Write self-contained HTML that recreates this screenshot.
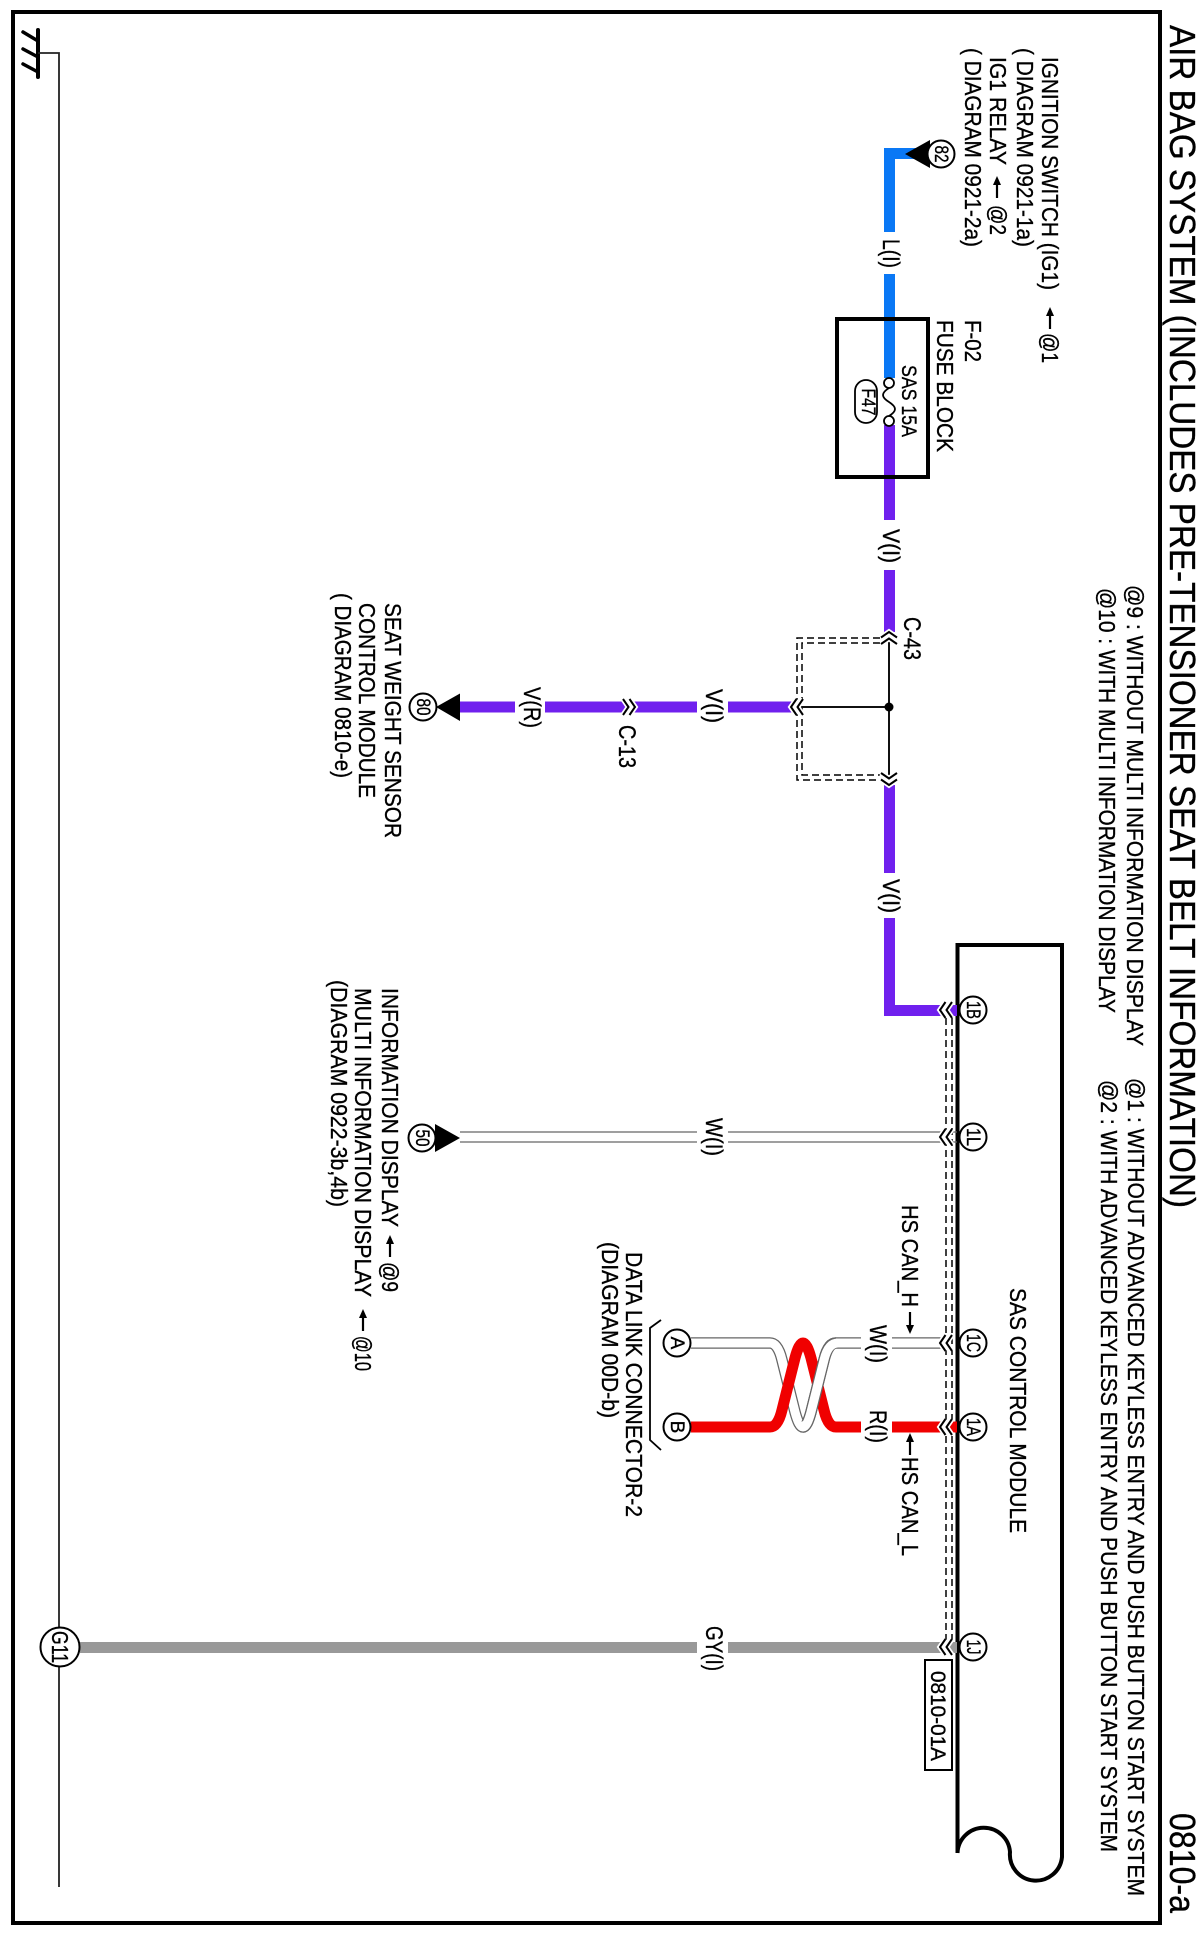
<!DOCTYPE html>
<html><head><meta charset="utf-8"><style>
html,body{margin:0;padding:0;background:#fff;width:1202px;height:1935px;overflow:hidden}
svg{display:block}
text{font-family:"Liberation Sans",sans-serif;fill:#000;font-size:23px;stroke:#000;stroke-width:.35px}
.s{font-size:19px;text-anchor:middle}
.w{font-size:24px}
</style></head><body>
<svg width="1202" height="1935" viewBox="0 0 1202 1935" xmlns="http://www.w3.org/2000/svg">
<defs>
<g id="c"><path d="M5.5 -8L0 0L5.5 8M12 -8L6.5 0L12 8" fill="none" stroke="#fff" stroke-width="5.5"/><path d="M5.5 -8L0 0L5.5 8M12 -8L6.5 0L12 8" fill="none" stroke="#000" stroke-width="2"/></g>
<g id="a"><path d="M0 0L-4 9H4Z" fill="#000"/><path d="M0 6V22" stroke="#000" stroke-width="2.200"/></g>
</defs>
<rect width="1202" height="1935" fill="#fff"/>
<rect x="13" y="12" width="1147" height="1911" fill="none" stroke="#000" stroke-width="4"/>

<!-- ground -->
<path d="M38 30V77" stroke="#000" stroke-width="4" stroke-linecap="round"/>
<path d="M23 32L38 41M23 49L38 57M23 64L38 72" stroke="#000" stroke-width="3.5" stroke-linecap="round"/>
<path d="M38 53H59V1887" fill="none" stroke="#222" stroke-width="1.8"/>

<!-- module -->
<path d="M957.500 1853V945H1062V1857A26 26 0 0 1 1010 1852A26.300 26.300 0 0 0 957.500 1853" fill="none" stroke="#000" stroke-width="4"/>

<!-- wires -->
<path d="M920 153.500H889.500V232M889.500 274V378" fill="none" stroke="#0a78f5" stroke-width="11"/>
<path d="M889.500 425V520M889.500 570V632M889.500 785V873M889.500 918V1010.500H957" fill="none" stroke="#7020ee" stroke-width="11"/>
<path d="M460 707H515M545 707H697M728 707H795" fill="none" stroke="#7020ee" stroke-width="11"/>
<path d="M80 1647.500H697M728 1647.500H957" fill="none" stroke="#999" stroke-width="11"/>
<path d="M889 632V785M889 707H797" fill="none" stroke="#111" stroke-width="2"/>
<circle cx="889" cy="707" r="4.500" fill="#000"/>
<path d="M460 1132H697M728 1132H957M460 1142H697M728 1142H957" stroke="#666" stroke-width="1.300" fill="none"/>

<!-- dashed shield -->
<g fill="none" stroke="#000" stroke-width="1.500" stroke-dasharray="7 4">
<path d="M880 638H797V780H880"/>
<path d="M880 643H802V775H880"/>
<path d="M946 1018V1640"/>
<path d="M952 1018V1640"/>
</g>

<!-- twisted pair -->
<path d="M691 1343H770Q778 1343 782 1360L795 1412Q799 1427 803 1427Q807 1427 811 1412L824 1360Q828 1343 836 1343H861M892 1343H950" fill="none" stroke="#666" stroke-width="11.500"/>
<path d="M691 1343H770Q778 1343 782 1360L795 1412Q799 1427 803 1427Q807 1427 811 1412L824 1360Q828 1343 836 1343H861M892 1343H950" fill="none" stroke="#fff" stroke-width="9"/>
<path d="M691 1427H770Q778 1427 782 1410L795 1358Q799 1343 803 1343Q807 1343 811 1358L824 1410Q828 1427 836 1427H861M892 1427H957" fill="none" stroke="#f00000" stroke-width="11"/>
<path d="M803 1427Q807 1427 811 1412L824 1360Q828 1343 836 1343" fill="none" stroke="#666" stroke-width="11.500"/>
<path d="M803 1427Q807 1427 811 1412L824 1360Q828 1343 838 1343" fill="none" stroke="#fff" stroke-width="9"/>
<path d="M661 1320L650 1328V1440L661 1450" fill="none" stroke="#000" stroke-width="1.800"/>

<!-- chevrons -->
<use href="#c" transform="translate(889,632) rotate(90)"/>
<use href="#c" transform="translate(889,785) rotate(-90)"/>
<use href="#c" transform="translate(791,707)"/>
<use href="#c" transform="translate(635,707) rotate(180)"/>
<use href="#c" transform="translate(940,1010)"/>
<use href="#c" transform="translate(940,1137)"/>
<use href="#c" transform="translate(940,1343)"/>
<use href="#c" transform="translate(940,1427)"/>
<use href="#c" transform="translate(940,1647)"/>

<!-- triangles -->
<path d="M905 154L930 140V168Z" fill="#000"/>
<path d="M436 707L460 693.500V721Z" fill="#000"/>
<path d="M460 1138L435 1124V1152Z" fill="#000"/>

<!-- label arrows -->
<use href="#a" transform="translate(1050,307)"/>
<use href="#a" transform="translate(997,176)"/>
<use href="#a" transform="translate(390,1235)"/>
<use href="#a" transform="translate(363,1309)"/>
<use href="#a" transform="translate(910,1433)"/>
<use href="#a" transform="translate(910,1334) rotate(180)"/>

<!-- fuse -->
<rect x="837" y="319" width="91" height="158" fill="none" stroke="#000" stroke-width="4"/>
<path d="M889 388C881 393 881 397 889 402C897 407 897 411 889 416" fill="none" stroke="#000" stroke-width="1.800"/>
<circle cx="889" cy="383" r="5" fill="#fff" stroke="#000" stroke-width="1.800"/>
<circle cx="889" cy="421" r="5" fill="#fff" stroke="#000" stroke-width="1.800"/>
<rect x="855" y="380" width="22" height="43" rx="11" fill="#fff" stroke="#000" stroke-width="1.800"/>
<rect x="925" y="1660" width="27" height="110" fill="#fff" stroke="#000" stroke-width="2"/>

<!-- circles -->
<g fill="#fff" stroke="#000" stroke-width="2">
<circle cx="941" cy="154" r="13.500"/>
<circle cx="423" cy="707" r="13.500"/>
<circle cx="422" cy="1138" r="13.500"/>
<circle cx="973" cy="1010" r="13.500"/>
<circle cx="973" cy="1137" r="13.500"/>
<circle cx="973" cy="1343" r="13.500"/>
<circle cx="973" cy="1427" r="13.500"/>
<circle cx="973" cy="1647" r="13.500"/>
<circle cx="677" cy="1343" r="13.500"/>
<circle cx="677" cy="1427" r="13.500"/>
<circle cx="60" cy="1647" r="19.500"/>
</g>
<g>
<text class="s" transform="translate(935,154) rotate(90)" textLength="17" lengthAdjust="spacingAndGlyphs">82</text>
<text class="s" transform="translate(417,707) rotate(90)" textLength="17" lengthAdjust="spacingAndGlyphs">80</text>
<text class="s" transform="translate(416,1138) rotate(90)" textLength="17" lengthAdjust="spacingAndGlyphs">50</text>
<text class="s" transform="translate(967,1010) rotate(90)" textLength="18" lengthAdjust="spacingAndGlyphs">1B</text>
<text class="s" transform="translate(967,1137) rotate(90)" textLength="18" lengthAdjust="spacingAndGlyphs">1L</text>
<text class="s" transform="translate(967,1343) rotate(90)" textLength="18" lengthAdjust="spacingAndGlyphs">1C</text>
<text class="s" transform="translate(967,1427) rotate(90)" textLength="18" lengthAdjust="spacingAndGlyphs">1A</text>
<text class="s" transform="translate(967,1647) rotate(90)" textLength="15" lengthAdjust="spacingAndGlyphs">1J</text>
<text class="s" transform="translate(671,1343) rotate(90)">A</text>
<text class="s" transform="translate(671,1427) rotate(90)">B</text>
<text class="s" transform="translate(862,402) rotate(90)" textLength="27" lengthAdjust="spacingAndGlyphs">F47</text>
<text class="s" style="font-size:23px" transform="translate(52,1647) rotate(90)" textLength="32" lengthAdjust="spacingAndGlyphs">G11</text>
</g>

<!-- title -->
<text style="font-size:36px" transform="translate(1170,25) rotate(90)" textLength="1183" lengthAdjust="spacingAndGlyphs">AIR BAG SYSTEM (INCLUDES PRE-TENSIONER SEAT BELT INFORMATION)</text>
<text style="font-size:36px" transform="translate(1170,1813) rotate(90)" textLength="100" lengthAdjust="spacingAndGlyphs">0810-a</text>

<!-- notes -->
<text transform="translate(1127,585) rotate(90)" textLength="461" lengthAdjust="spacingAndGlyphs">@9 : WITHOUT MULTI INFORMATION DISPLAY</text>
<text transform="translate(1099,588) rotate(90)" textLength="425" lengthAdjust="spacingAndGlyphs">@10 : WITH MULTI INFORMATION DISPLAY</text>
<text transform="translate(1128,1078) rotate(90)" textLength="818" lengthAdjust="spacingAndGlyphs">@1 : WITHOUT ADVANCED KEYLESS ENTRY AND PUSH BUTTON START SYSTEM</text>
<text transform="translate(1101,1080) rotate(90)" textLength="772" lengthAdjust="spacingAndGlyphs">@2 : WITH ADVANCED KEYLESS ENTRY AND PUSH BUTTON START SYSTEM</text>

<!-- top-left labels -->
<text transform="translate(1042,57) rotate(90)" textLength="233" lengthAdjust="spacingAndGlyphs">IGNITION SWITCH (IG1)</text>
<text transform="translate(1042,333) rotate(90)" textLength="30" lengthAdjust="spacingAndGlyphs">@1</text>
<text transform="translate(1017,48) rotate(90)" textLength="199" lengthAdjust="spacingAndGlyphs">( DIAGRAM 0921-1a)</text>
<text transform="translate(990,57) rotate(90)" textLength="108" lengthAdjust="spacingAndGlyphs">IG1 RELAY</text>
<text transform="translate(990,205) rotate(90)" textLength="30" lengthAdjust="spacingAndGlyphs">@2</text>
<text transform="translate(965,48) rotate(90)" textLength="199" lengthAdjust="spacingAndGlyphs">( DIAGRAM 0921-2a)</text>

<text transform="translate(965,320) rotate(90)" textLength="42" lengthAdjust="spacingAndGlyphs">F-02</text>
<text transform="translate(937,320) rotate(90)" textLength="132" lengthAdjust="spacingAndGlyphs">FUSE BLOCK</text>
<text style="font-size:21px" transform="translate(902,365) rotate(90)" textLength="72" lengthAdjust="spacingAndGlyphs">SAS 15A</text>

<text class="w" transform="translate(883,239) rotate(90)" textLength="29" lengthAdjust="spacingAndGlyphs">L(I)</text>
<text class="w" transform="translate(883,529) rotate(90)" textLength="34" lengthAdjust="spacingAndGlyphs">V(I)</text>
<text class="w" transform="translate(883,879) rotate(90)" textLength="34" lengthAdjust="spacingAndGlyphs">V(I)</text>
<text class="w" transform="translate(904,617) rotate(90)" textLength="43" lengthAdjust="spacingAndGlyphs">C-43</text>
<text class="w" transform="translate(706,689) rotate(90)" textLength="34" lengthAdjust="spacingAndGlyphs">V(I)</text>
<text class="w" transform="translate(524,687) rotate(90)" textLength="41" lengthAdjust="spacingAndGlyphs">V(R)</text>
<text class="w" transform="translate(619,725) rotate(90)" textLength="43" lengthAdjust="spacingAndGlyphs">C-13</text>
<text class="w" transform="translate(706,1118) rotate(90)" textLength="38" lengthAdjust="spacingAndGlyphs">W(I)</text>
<text class="w" transform="translate(706,1626) rotate(90)" textLength="45" lengthAdjust="spacingAndGlyphs">GY(I)</text>
<text class="w" transform="translate(870,1325) rotate(90)" textLength="38" lengthAdjust="spacingAndGlyphs">W(I)</text>
<text class="w" transform="translate(870,1410) rotate(90)" textLength="33" lengthAdjust="spacingAndGlyphs">R(I)</text>

<!-- left labels -->
<text transform="translate(385,603) rotate(90)" textLength="235" lengthAdjust="spacingAndGlyphs">SEAT WEIGHT SENSOR</text>
<text transform="translate(359,603) rotate(90)" textLength="195" lengthAdjust="spacingAndGlyphs">CONTROL MODULE</text>
<text transform="translate(335,593) rotate(90)" textLength="185" lengthAdjust="spacingAndGlyphs">( DIAGRAM 0810-e)</text>

<text transform="translate(382,988) rotate(90)" textLength="239" lengthAdjust="spacingAndGlyphs">INFORMATION DISPLAY</text>
<text transform="translate(382,1262) rotate(90)" textLength="30" lengthAdjust="spacingAndGlyphs">@9</text>
<text transform="translate(355,988) rotate(90)" textLength="309" lengthAdjust="spacingAndGlyphs">MULTI INFORMATION DISPLAY</text>
<text transform="translate(355,1336) rotate(90)" textLength="35" lengthAdjust="spacingAndGlyphs">@10</text>
<text transform="translate(331,980) rotate(90)" textLength="227" lengthAdjust="spacingAndGlyphs">(DIAGRAM 0922-3b,4b)</text>

<text transform="translate(626,1252) rotate(90)" textLength="265" lengthAdjust="spacingAndGlyphs">DATA LINK CONNECTOR-2</text>
<text transform="translate(602,1242) rotate(90)" textLength="176" lengthAdjust="spacingAndGlyphs">(DIAGRAM 00D-b)</text>

<text transform="translate(1010,1288) rotate(90)" textLength="245" lengthAdjust="spacingAndGlyphs">SAS CONTROL MODULE</text>
<text transform="translate(902,1205) rotate(90)" textLength="102" lengthAdjust="spacingAndGlyphs">HS CAN_H</text>
<text transform="translate(902,1457) rotate(90)" textLength="99" lengthAdjust="spacingAndGlyphs">HS CAN_L</text>
<text style="font-size:21px" transform="translate(931,1671) rotate(90)" textLength="90" lengthAdjust="spacingAndGlyphs">0810-01A</text>
</svg>
</body></html>
